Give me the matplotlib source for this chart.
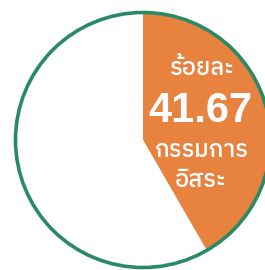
import matplotlib
matplotlib.use('Agg')
import matplotlib.pyplot as plt
from matplotlib.patches import Circle

# ข้อมูล
labels = ['กรรมการอิสระ', 'อื่น ๆ']
values = [41.67, 58.33]
colors = ['#E8823F', '#FFFFFF']
border = '#2A8A66'

fig = plt.figure(figsize=(2.65, 2.70), dpi=100)
ax = fig.add_axes([0, 0, 1, 1])

cx, cy, r = 143, 130, 127.5
ax.pie(values, colors=colors, startangle=90, counterclock=False,
       center=(cx, cy), radius=r, frame=True,
       wedgeprops={'linewidth': 0})
ax.add_patch(Circle((cx, cy), r, fill=False, edgecolor=border, linewidth=2.6))

ax.set_xlim(0, 265)
ax.set_ylim(0, 270)
ax.axis('off')

thai = ['IBM Plex Sans Thai', 'DejaVu Sans']
ax.text(202, 270 - 75, 'ร้อยละ', color='white', fontsize=17, family=thai,
        fontweight='medium', ha='center', va='baseline')
ax.text(200, 270 - 122, '41.67', color='white', fontsize=30,
        family=['Liberation Sans', 'DejaVu Sans'],
        fontweight='bold', ha='center', va='baseline')
ax.text(201, 270 - 157, 'กรรมการ', color='white', fontsize=17, family=thai,
        fontweight='medium', ha='center', va='baseline')
ax.text(201, 270 - 187, 'อิสระ', color='white', fontsize=17, family=thai,
        fontweight='medium', ha='center', va='baseline')

fig.savefig('out.png')
